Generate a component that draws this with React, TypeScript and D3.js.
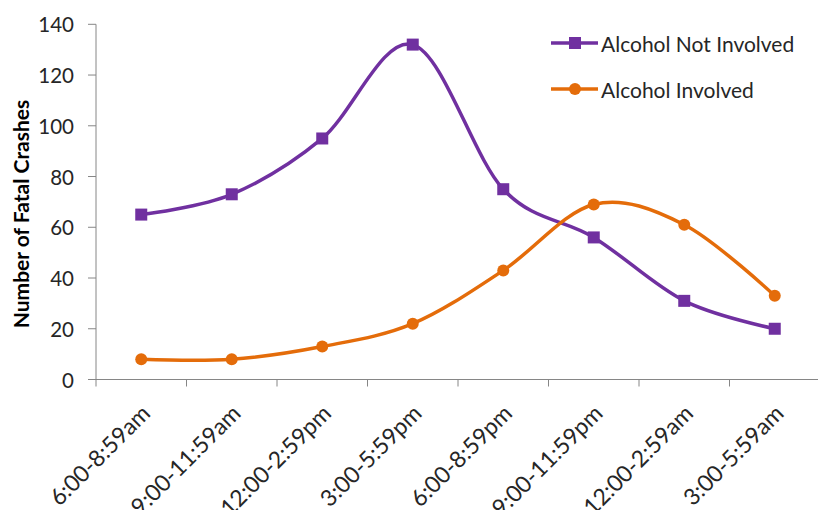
import React from "react";
import * as d3 from "d3";

const categories = [
  "6:00-8:59am",
  "9:00-11:59am",
  "12:00-2:59pm",
  "3:00-5:59pm",
  "6:00-8:59pm",
  "9:00-11:59pm",
  "12:00-2:59am",
  "3:00-5:59am",
];
const notInvolved = [65, 73, 95, 132, 75, 56, 31, 20];
const involved = [8, 8, 13, 22, 43, 69, 61, 33];
const yTicks = [0, 20, 40, 60, 80, 100, 120, 140];

const PURPLE = "#7030A0";
const ORANGE = "#E46C0A";
const AXIS = "#868686";
const FONT = "Lato, 'Open Sans', sans-serif";

export default function App() {
  const W = 818;
  const H = 510;
  const left = 96;
  const right = 820;
  const top = 24.3;
  const bottom = 379.5;

  const x = d3
    .scaleBand<string>()
    .domain(categories)
    .range([left, right])
    .paddingInner(0)
    .paddingOuter(0);
  const y = d3.scaleLinear().domain([0, 140]).range([bottom, top]);
  const cx = (c: string) => (x(c) as number) + x.bandwidth() / 2;

  const line = d3
    .line<number>()
    .x((_, i) => cx(categories[i]))
    .y((d) => y(d))
    .curve(d3.curveCardinal.tension(0));

  const tickXs = categories.map((c) => x(c) as number).concat([right]);

  return (
    <svg
      width={W}
      height={H}
      style={{ position: "absolute", left: 0, top: 0 }}
      fontFamily={FONT}
    >
      <rect width={W} height={H} fill="#fff" />
      {/* y axis */}
      <line x1={left} x2={left} y1={top} y2={bottom} stroke={AXIS} strokeWidth={1} />
      {yTicks.map((t) => (
        <g key={t}>
          <line x1={left - 8} x2={left} y1={y(t)} y2={y(t)} stroke={AXIS} />
          <text
            x={left - 22}
            y={y(t)}
            textAnchor="end"
            dominantBaseline="central"
            fontSize={20.5}
            fill="#262626"
          >
            {t}
          </text>
        </g>
      ))}
      <text
        transform={`translate(20, 214) rotate(-90)`}
        textAnchor="middle"
        dominantBaseline="central"
        fontSize={21}
        fontWeight="bold"
        fill="#000"
      >
        Number of Fatal Crashes
      </text>
      {/* x axis */}
      <line x1={left} x2={W} y1={bottom} y2={bottom} stroke={AXIS} />
      {tickXs.map((tx, i) => (
        <line key={i} x1={tx} x2={tx} y1={bottom} y2={bottom + 7} stroke={AXIS} />
      ))}
      {categories.map((c) => (
        <text
          key={c}
          transform={`translate(${cx(c) + 4}, ${bottom + 29}) rotate(-45)`}
          textAnchor="end"
          dominantBaseline="central"
          fontSize={23}
          fill="#262626"
        >
          {c}
        </text>
      ))}
      {/* series */}
      <path d={line(notInvolved) || ""} fill="none" stroke={PURPLE} strokeWidth={3.5} />
      <path d={line(involved) || ""} fill="none" stroke={ORANGE} strokeWidth={3.5} />
      {notInvolved.map((v, i) => (
        <rect
          key={i}
          x={cx(categories[i]) - 6}
          y={y(v) - 6}
          width={12}
          height={12}
          fill={PURPLE}
        />
      ))}
      {involved.map((v, i) => (
        <circle key={i} cx={cx(categories[i])} cy={y(v)} r={6} fill={ORANGE} />
      ))}
      {/* legend */}
      <g>
        <line x1={551} x2={598} y1={43} y2={43} stroke={PURPLE} strokeWidth={3.5} />
        <rect x={569} y={37} width={12} height={12} fill={PURPLE} />
        <text x={601} y={43} dominantBaseline="central" fontSize={21} fill="#262626">
          Alcohol Not Involved
        </text>
        <line x1={551} x2={598} y1={89} y2={89} stroke={ORANGE} strokeWidth={3.5} />
        <circle cx={575} cy={89} r={6} fill={ORANGE} />
        <text x={601} y={89} dominantBaseline="central" fontSize={21} fill="#262626">
          Alcohol Involved
        </text>
      </g>
    </svg>
  );
}
